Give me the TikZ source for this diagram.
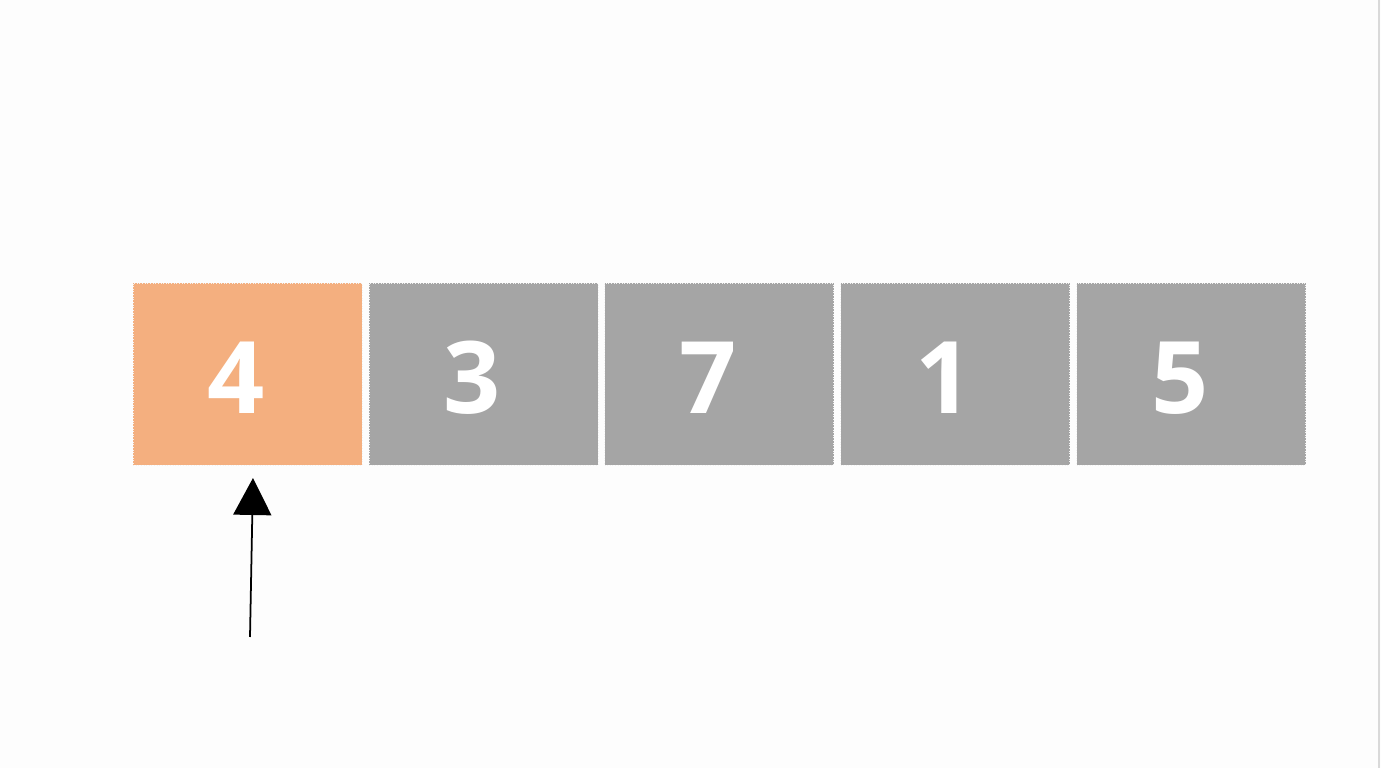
\documentclass[tikz,border=0pt]{standalone}
\usepackage{fontspec}
\setmainfont{Open Sans}
\usetikzlibrary{arrows.meta}

\definecolor{cellorange}{HTML}{F4AF7F}
\definecolor{cellgray}{HTML}{A5A5A5}
\definecolor{paper}{HTML}{FDFDFD}

\begin{document}
\begin{tikzpicture}[
  cell/.style={draw=white!90!gray, densely dotted, line width=0.5pt, minimum width=4.58cm, minimum height=3.64cm, inner sep=0pt, outer sep=0pt, text=white, text height=1.57cm, text depth=0pt, font=\fontsize{57}{60}\selectfont\bfseries, execute at end node={\hspace{0.44cm}}},
  pointer/.style={-{Triangle[length=0.74cm, width=0.76cm]}, line width=1pt, black},
]

% Canvas
\fill[paper] (0,0) rectangle (27.62,15.36);
\useasboundingbox (0,0) rectangle (27.62,15.36);
\draw[gray!30, line width=0.8pt] (27.58,0) -- (27.58,15.36);

% Array cells (left to right)
\node[cell, fill=cellorange] (c1) at (4.95,7.88) {4};
\node[cell, fill=cellgray] (c2) at (9.67,7.88) {3};
\node[cell, fill=cellgray] (c3) at (14.38,7.88) {7};
\node[cell, fill=cellgray] (c4) at (19.10,7.88) {1};
\node[cell, fill=cellgray] (c5) at (23.82,7.88) {5};

% Pointer under the first cell
\coordinate (ptr) at (5.0,2.62);
\coordinate (tip) at (5.06,5.80);
\draw[pointer] (ptr) -- (tip);

\end{tikzpicture}
\end{document}
